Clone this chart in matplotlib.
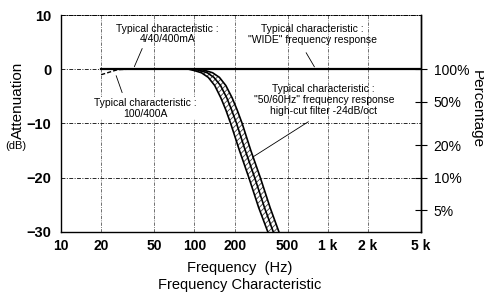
import numpy as np
import matplotlib
matplotlib.use("Agg")
import matplotlib.pyplot as plt

plt.rcParams['font.family'] = ['Liberation Sans', 'DejaVu Sans']
plt.rcParams['hatch.linewidth'] = 0.6

# flat curves
wide_f = [20, 5000]
wide_db = [0, 0]
low_f = [20, 22, 24, 26, 28, 32]
low_db = [-1.0, -0.7, -0.4, -0.15, -0.05, 0]

# high-cut band (left / middle / right edges share the same dB steps)
cut_db = [0, -0.25, -0.65, -1.5, -3, -5.3, -7.5, -10, -14.9, -20, -25.5, -30]
cut_left_f = [91, 100, 113, 127, 142, 158, 172, 187, 217, 256, 303, 355]
cut_mid_f = [100, 110, 125, 140, 157, 175, 190, 207, 240, 283, 335, 390]
cut_right_f = [110, 121, 137, 154, 172, 192, 209, 228, 264, 312, 369, 430]

x_ticks = [10, 20, 50, 100, 200, 500, 1000, 2000, 5000]
x_labels = ['10', '20', '50', '100', '200', '500', '1 k', '2 k', '5 k']
y_ticks = [10, 0, -10, -20, -30]
y_labels = ['10', '0', '\u221210', '\u221220', '\u221230']
pct = [100, 50, 20, 10, 5]

fig = plt.figure(figsize=(4.84, 2.95), dpi=100)
ax = fig.add_axes([0.126, 0.214, 0.744, 0.735])

ax.set_xscale('log')
ax.set_xlim(10, 5000)
ax.set_ylim(-30, 10)

grid_ls = (0, (4, 1.5, 1, 1.5))
for f in [20, 50, 100, 200, 500, 1000, 2000]:
    ax.axvline(f, color='0.35', lw=0.6, ls=grid_ls, zorder=1)
for d in [0, -10, -20]:
    ax.axhline(d, color='0.15', lw=0.7, ls=grid_ls, zorder=1)

ax.plot(wide_f, wide_db, color='black', lw=1.6, zorder=3)
ax.plot(low_f, low_db, color='black', lw=1.0, ls=(0, (3, 1.5)), zorder=3)

ax.fill_betweenx(cut_db, cut_left_f, cut_right_f, facecolor='white',
                 edgecolor='0.25', hatch='//////', lw=0, zorder=2)
for fs in (cut_left_f, cut_mid_f, cut_right_f):
    ax.plot(fs, cut_db, color='black', lw=1.2, zorder=3)

ax.set_xticks(x_ticks)
ax.set_xticklabels(x_labels, fontsize=10, fontweight='bold')
ax.xaxis.set_minor_locator(matplotlib.ticker.NullLocator())
ax.set_yticks(y_ticks)
ax.set_yticklabels(y_labels, fontsize=10.5, fontweight='bold')
ax.tick_params(axis='both', length=0, pad=5)
ax.tick_params(axis='y', pad=7)

ax.spines['top'].set_linestyle(grid_ls)
ax.spines['top'].set_linewidth(0.7)
for s in ['left', 'bottom', 'right']:
    ax.spines[s].set_linewidth(1.0)

# right percentage axis
ax2 = ax.twinx()
ax2.set_ylim(-30, 10)
ax2.set_yticks([20 * np.log10(p / 100) for p in pct])
ax2.set_yticklabels(['%d%%' % p for p in pct], fontsize=10)
ax2.tick_params(axis='y', direction='inout', length=8, width=0.8, pad=5)
for s in ['top', 'left', 'bottom']:
    ax2.spines[s].set_visible(False)
ax2.spines['right'].set_linewidth(1.0)

# labels
fig.text(0.037, 0.66, 'Attenuation', rotation=90, fontsize=11,
         ha='center', va='center')
fig.text(0.032, 0.505, '(dB)', fontsize=8, ha='center', va='center')
fig.text(0.985, 0.63, 'Percentage', rotation=-90, fontsize=11,
         ha='center', va='center')
fig.text(0.496, 0.092, 'Frequency  (Hz)', fontsize=10.5, ha='center', va='center')
fig.text(0.496, 0.033, 'Frequency Characteristic', fontsize=10.5,
         ha='center', va='center')

tfs = 7.5
ax.text(62.7, 6.5, 'Typical characteristic :\n4/40/400mA', fontsize=tfs,
        ha='center', va='center', linespacing=1.1)
ax.annotate('', xy=(34.8, 0), xytext=(41.4, 4.3),
            arrowprops=dict(arrowstyle='-', lw=0.6, color='black'))

ax.text(42.8, -7.2, 'Typical characteristic :\n100/400A', fontsize=tfs,
        ha='center', va='center', linespacing=1.1,
        bbox=dict(facecolor='white', edgecolor='none', pad=0.5))
ax.annotate('', xy=(25.5, -0.7), xytext=(29.2, -4.8),
            arrowprops=dict(arrowstyle='-', lw=0.6, color='black'))

ax.text(771, 6.4, 'Typical characteristic :\n"WIDE" frequency response',
        fontsize=tfs, ha='center', va='center', linespacing=1.1)
ax.annotate('', xy=(813, 0), xytext=(671, 3.5),
            arrowprops=dict(arrowstyle='-', lw=0.6, color='black'))

ax.text(933, -5.7, 'Typical characteristic :\n"50/60Hz" frequency response\n'
        'high-cut filter -24dB/oct', fontsize=tfs, ha='center', va='center',
        linespacing=1.1)
ax.annotate('', xy=(262, -16.5), xytext=(745, -9.4),
            arrowprops=dict(arrowstyle='-', lw=0.6, color='black'))

fig.savefig('out.png', dpi=100)
